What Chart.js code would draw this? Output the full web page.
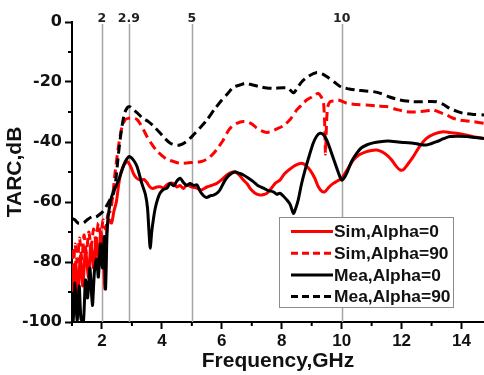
<!DOCTYPE html>
<html>
<head>
<meta charset="utf-8">
<script src="https://cdn.jsdelivr.net/npm/chart.js@4/dist/chart.umd.min.js"></script>
<style>
  html, body { margin: 0; padding: 0; background: #fff; }
  #wrap { width: 484px; height: 375px; position: relative; }
</style>
</head>
<body>
<div id="wrap"><canvas id="c" width="484" height="375"></canvas></div>
<script>
// Frequency (GHz) and TARC (dB) samples for each curve
const freqSimA0 = [1.0,1.05,1.12,1.2,1.28,1.36,1.45,1.55,1.63,1.72,1.8,1.88,1.96,2.04,2.1,2.16,2.24,2.32,2.4,2.48,2.56,2.64,2.74,2.85,2.95,3.05,3.15,3.28,3.4,3.5,3.6,3.7,3.83,3.94,4.05,4.2,4.39,4.5,4.6,4.72,4.83,5.0,5.17,5.3,5.5,5.65,5.83,6.0,6.17,6.3,6.44,6.58,6.72,6.85,6.94,7.1,7.28,7.4,7.5,7.65,7.78,7.94,8.1,8.28,8.45,8.67,8.8,8.94,9.1,9.22,9.35,9.44,9.58,9.72,9.86,10.0,10.2,10.39,10.6,10.83,11.0,11.17,11.35,11.5,11.67,11.83,11.95,12.05,12.2,12.39,12.6,12.83,13.1,13.39,13.6,13.83,14.1,14.39,14.75];
const tarcSimA0 = [-82,-92,-80,-90,-78,-88,-76,-85,-74,-82,-72,-80,-70,-77,-89,-70,-66,-67,-63,-60,-54,-50,-47.5,-46.6,-48,-50.5,-52,-52.7,-52.5,-53.5,-55,-55.5,-55,-54.9,-55.3,-54,-53.8,-55,-54.5,-55.5,-54.3,-55,-55.4,-56,-55,-54.5,-53.8,-52.5,-51,-50.2,-49.9,-51,-52.7,-54,-55.4,-57,-57.7,-57.5,-57.1,-55.5,-53.8,-52.7,-50.5,-49,-47.8,-47.1,-47.8,-49.3,-52,-54.9,-56.5,-56.6,-55,-53.8,-53,-52.1,-49,-46,-44.2,-43.2,-42.8,-42.7,-43.3,-44.3,-46,-48.2,-49.3,-49.3,-47.5,-44.9,-41.5,-38.8,-37.3,-36.6,-36.8,-37.1,-37.6,-38.2,-38.8];

const freqSimA90 = [1.0,1.05,1.1,1.18,1.25,1.33,1.4,1.48,1.56,1.64,1.72,1.8,1.88,1.96,2.04,2.12,2.2,2.28,2.36,2.44,2.55,2.67,2.78,2.89,3.0,3.17,3.28,3.39,3.52,3.67,3.83,4.0,4.17,4.39,4.6,4.83,5.05,5.28,5.45,5.6,5.75,5.9,6.05,6.2,6.33,6.5,6.72,6.9,7.05,7.17,7.35,7.5,7.61,7.8,8.05,8.28,8.5,8.7,8.83,9.0,9.12,9.22,9.32,9.39,9.43,9.46,9.49,9.53,9.61,9.75,9.89,10.17,10.5,10.83,11.2,11.5,11.85,12.17,12.4,12.6,12.85,13.05,13.3,13.5,13.7,13.94,14.2,14.38,14.75];
const tarcSimA90 = [-76,-82,-74,-80,-72,-79,-71,-77,-70,-75,-69,-73,-67,-71,-66,-69,-64,-63,-58,-50,-41.6,-34.9,-32.5,-32.1,-32,-32.5,-34,-36,-38.5,-40.8,-43,-44.5,-45.8,-46.5,-47.1,-47,-46.8,-46.6,-46,-45,-43.5,-41.5,-39.3,-36.5,-34.9,-33.8,-33.2,-33.5,-34.3,-35.4,-36.4,-36.8,-36.6,-35.8,-34.6,-32.5,-29.3,-27.3,-26,-25,-24.2,-23.8,-25,-26.5,-33,-44,-35,-28.5,-26.6,-26.3,-26,-27.1,-27.5,-27.7,-28,-28.2,-29.2,-29.9,-30,-29.9,-29.6,-29.3,-30.2,-31,-32,-32.7,-33,-33.2,-33.8];

const freqMeaA0 = [1.0,1.04,1.1,1.17,1.24,1.3,1.38,1.45,1.52,1.6,1.68,1.75,1.82,1.88,1.95,2.02,2.08,2.12,2.18,2.28,2.38,2.48,2.58,2.67,2.78,2.88,2.94,3.05,3.17,3.33,3.45,3.52,3.57,3.61,3.66,3.72,3.78,3.86,3.94,4.05,4.17,4.28,4.4,4.5,4.61,4.72,4.83,4.94,5.06,5.17,5.28,5.4,5.5,5.6,5.72,5.83,5.94,6.11,6.25,6.44,6.6,6.72,6.88,7.05,7.2,7.39,7.55,7.72,7.83,7.94,8.05,8.17,8.28,8.39,8.47,8.55,8.66,8.78,8.92,9.05,9.17,9.28,9.39,9.5,9.62,9.78,9.9,10.0,10.08,10.17,10.33,10.5,10.65,10.83,11.05,11.28,11.55,11.83,12.1,12.39,12.6,12.83,13.0,13.17,13.4,13.61,13.9,14.17,14.45,14.75];
const tarcMeaA0 = [-90,-99.5,-87,-100,-88,-99,-100,-86,-92,-82,-94.5,-83,-79,-85,-74,-82,-71.5,-89,-68,-60,-56.5,-54.5,-52,-49.3,-46.5,-45,-44.9,-46,-48.2,-53.8,-57.5,-62,-70,-75.4,-70,-65.5,-62,-59,-57,-55.8,-55.4,-53.8,-54.6,-53,-52.1,-53.5,-54.5,-53.8,-54.5,-54.3,-56.5,-58,-58.5,-58,-57.7,-57.1,-55.9,-52.7,-51,-50,-50.5,-51,-52,-53.2,-54.5,-55.4,-56.2,-56.6,-57.4,-57.1,-58,-59.3,-60.8,-63.8,-62,-59.3,-54,-49.3,-44.5,-40.4,-38,-37.1,-37.6,-39.3,-42.5,-47.1,-50.5,-52.7,-52,-50.4,-46.5,-43.8,-42,-41,-40.3,-39.9,-39.7,-39.9,-40.2,-40.4,-40.8,-41,-40.5,-39.9,-38.9,-38.2,-38.1,-38.2,-38.5,-38.8];

const freqMeaA90 = [1.0,1.1,1.2,1.38,1.5,1.67,1.8,1.94,2.05,2.17,2.28,2.39,2.47,2.55,2.65,2.75,2.85,2.92,3.0,3.2,3.35,3.55,3.75,3.94,4.1,4.28,4.45,4.6,4.8,5.0,5.25,5.5,5.75,6.0,6.2,6.38,6.6,6.8,7.0,7.28,7.5,7.72,8.05,8.22,8.39,8.52,8.67,8.9,9.17,9.35,9.5,9.75,10.0,10.25,10.5,10.8,11.05,11.3,11.6,11.94,12.3,12.6,12.9,13.17,13.4,13.6,13.85,14.05,14.4,14.75];
const tarcMeaA90 = [-65.4,-66,-67,-67,-66,-64.9,-65,-64,-63,-61,-59,-57,-52,-44,-36,-30.5,-28.5,-28.2,-28.8,-30.5,-32,-33.2,-35,-37,-38.8,-40.4,-41,-41,-40,-38.2,-35.5,-32.7,-29.2,-26,-23.8,-21.8,-21,-20.4,-20.9,-21.6,-22,-22.1,-21.9,-22.1,-23.6,-22,-19.9,-18,-16.8,-17.3,-18.2,-20,-21.8,-22.3,-22.7,-23,-23.2,-23.8,-25,-26,-26.5,-26.6,-26.5,-26.6,-27.5,-28.8,-29.8,-30.4,-30.8,-31];

// Marked frequencies drawn as vertical guide lines
const markerFreqs = [2, 2.9, 5, 10];
const markerLabels = ['2', '2.9', '5', '10'];

// Axis ticks
const xMajorTicks = [2, 4, 6, 8, 10, 12, 14];
const xMinorTicks = [1, 3, 5, 7, 9, 11, 13];
const yMajorTicks = [-100, -80, -60, -40, -20, 0];
const yMinorTicks = [-90, -70, -50, -30, -10];

const FONT = "'Liberation Sans', Arial, sans-serif";
const WIDE_FONT = "'DejaVu Sans', 'Liberation Sans', sans-serif";

function pts(xs, ys) { return xs.map((x, i) => ({ x: x, y: ys[i] })); }

const DASH = [9, 5];

const datasets = [
  { label: 'Sim,Alpha=0',  data: pts(freqSimA0, tarcSimA0),  borderColor: '#ff0000', borderDash: [], order: 2 },
  { label: 'Sim,Alpha=90', data: pts(freqSimA90, tarcSimA90), borderColor: '#ff0000', borderDash: DASH, order: 3 },
  { label: 'Mea,Alpha=0',  data: pts(freqMeaA0, tarcMeaA0),  borderColor: '#000000', borderDash: [], order: 0 },
  { label: 'Mea,Alpha=90', data: pts(freqMeaA90, tarcMeaA90), borderColor: '#000000', borderDash: DASH, order: 1 }
].map(d => Object.assign(d, { borderWidth: 3, pointRadius: 0, tension: 0.25, fill: false }));

// Gray vertical guides with their labels above the plot
const markerPlugin = {
  id: 'markers',
  beforeDatasetsDraw(chart) {
    const { ctx, chartArea, scales } = chart;
    ctx.save();
    ctx.strokeStyle = '#a6a6a6';
    ctx.lineWidth = 1.5;
    markerFreqs.forEach(f => {
      const px = Math.round(scales.x.getPixelForValue(f)) + 0.5;
      ctx.beginPath();
      ctx.moveTo(px, 24);
      ctx.lineTo(px, chartArea.bottom);
      ctx.stroke();
    });
    ctx.restore();
  },
  afterDraw(chart) {
    const { ctx, scales } = chart;
    ctx.save();
    ctx.fillStyle = '#222';
    ctx.font = 'bold 12.5px ' + WIDE_FONT;
    ctx.textAlign = 'center';
    ctx.textBaseline = 'alphabetic';
    markerFreqs.forEach((f, i) => {
      ctx.fillText(markerLabels[i], scales.x.getPixelForValue(f), 22);
    });
    ctx.restore();
  }
};

// Short minor ticks on both axes
const minorTickPlugin = {
  id: 'minorTicks',
  afterDraw(chart) {
    const { ctx, chartArea, scales } = chart;
    ctx.save();
    ctx.strokeStyle = '#000';
    ctx.lineWidth = 2;
    xMinorTicks.forEach(v => {
      const px = scales.x.getPixelForValue(v);
      ctx.beginPath();
      ctx.moveTo(px, chartArea.bottom);
      ctx.lineTo(px, chartArea.bottom + 4);
      ctx.stroke();
    });
    yMinorTicks.forEach(v => {
      const py = scales.y.getPixelForValue(v);
      ctx.beginPath();
      ctx.moveTo(chartArea.left, py);
      ctx.lineTo(chartArea.left - 4, py);
      ctx.stroke();
    });
    ctx.restore();
  }
};

// Boxed legend inside the lower right of the plot
const boxLegendPlugin = {
  id: 'boxLegend',
  afterDraw(chart) {
    const { ctx } = chart;
    const x0 = 279, y0 = 217, w = 174, h = 90;
    ctx.save();
    ctx.fillStyle = '#fff';
    ctx.fillRect(x0, y0, w, h);
    ctx.strokeStyle = '#8c8c8c';
    ctx.lineWidth = 1;
    ctx.strokeRect(x0 + 0.5, y0 + 0.5, w, h);
    ctx.font = 'bold 17.4px ' + FONT;
    ctx.textBaseline = 'middle';
    ctx.textAlign = 'left';
    chart.data.datasets.forEach((d, i) => {
      const cy = y0 + 14.5 + i * 21.7;
      ctx.strokeStyle = d.borderColor;
      ctx.lineWidth = 3;
      ctx.setLineDash(d.borderDash.length ? [7, 4] : []);
      ctx.beginPath();
      ctx.moveTo(x0 + 12, cy);
      ctx.lineTo(x0 + 54, cy);
      ctx.stroke();
      ctx.setLineDash([]);
      ctx.fillStyle = '#111';
      ctx.fillText(d.label, x0 + 55, cy + 1);
    });
    ctx.restore();
  }
};

new Chart(document.getElementById('c'), {
  type: 'line',
  data: { datasets: datasets },
  plugins: [markerPlugin, minorTickPlugin, boxLegendPlugin],
  options: {
    responsive: false,
    devicePixelRatio: 1,
    animation: false,
    layout: { padding: { top: 22, right: 0, left: 0, bottom: 0 } },
    plugins: { legend: { display: false }, tooltip: { enabled: false } },
    scales: {
      x: {
        type: 'linear',
        min: 1,
        max: 14.75,
        afterBuildTicks: s => { s.ticks = xMajorTicks.map(v => ({ value: v })); },
        afterFit: s => { s.height = 53; },
        ticks: { color: '#111', font: { family: FONT, size: 17, weight: 'bold' }, padding: 2, maxRotation: 0 },
        grid: { drawOnChartArea: false, drawTicks: true, tickLength: 7, tickWidth: 2, tickColor: '#000' },
        border: { display: true, color: '#000', width: 2 },
        title: { display: true, text: 'Frequency,GHz', color: '#111', font: { family: FONT, size: 21, weight: 'bold' }, padding: { top: 0, bottom: 1 } }
      },
      y: {
        type: 'linear',
        min: -100,
        max: 0,
        afterBuildTicks: s => { s.ticks = yMajorTicks.map(v => ({ value: v })); },
        afterFit: s => { s.width = 72; },
        ticks: { color: '#111', font: { family: WIDE_FONT, size: 16, weight: 'bold' }, padding: 3 },
        grid: { drawOnChartArea: false, drawTicks: true, tickLength: 7, tickWidth: 2, tickColor: '#000' },
        border: { display: true, color: '#000', width: 2 },
        title: { display: true, text: 'TARC,dB', color: '#111', font: { family: FONT, size: 21, weight: 'bold' }, padding: { top: 3, bottom: 0 } }
      }
    }
  }
});
</script>
</body>
</html>
